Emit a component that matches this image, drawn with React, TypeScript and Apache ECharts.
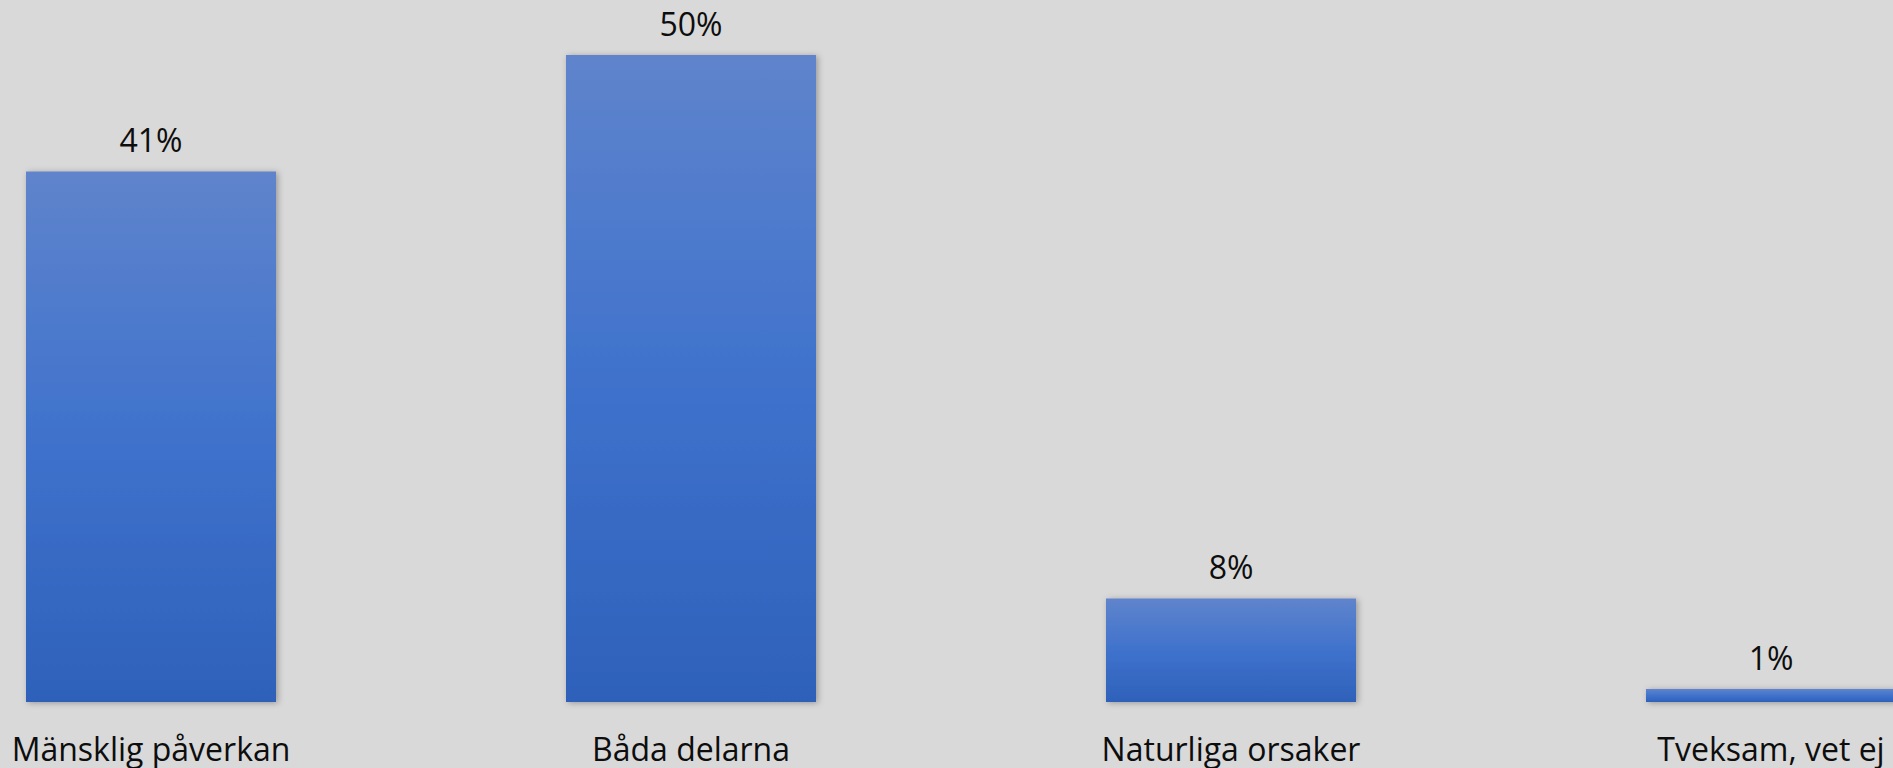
import React, { useEffect, useRef } from "react";
import * as echarts from "echarts";

const categories = ["Mänsklig påverkan", "Båda delarna", "Naturliga orsaker", "Tveksam, vet ej"];
const values = [41, 50, 8, 1];

const OFFSET_X = 119;
const PLOT_W = 2160;

export default function App() {
  const ref = useRef<HTMLDivElement>(null);
  useEffect(() => {
    document.documentElement.style.overflow = "hidden";
    document.body.style.overflow = "hidden";
    document.body.style.background = "#d9d9d9";
    if (!ref.current) return;
    const chart = echarts.init(ref.current, undefined, { renderer: "svg" });
    chart.setOption({
      animation: false,
      backgroundColor: "#d9d9d9",
      grid: { left: 0, top: 55, width: PLOT_W, bottom: 66, containLabel: false },
      xAxis: {
        type: "category",
        data: categories,
        axisLine: { show: false },
        axisTick: { show: false },
        axisLabel: {
          fontFamily: "Open Sans",
          fontSize: 32,
          color: "#0d0d0d",
          margin: 30,
          interval: 0,
        },
      },
      yAxis: {
        type: "value",
        min: 0,
        max: 50,
        show: false,
        splitLine: { show: false },
      },
      graphic: [
        {
          type: "line",
          shape: { x1: 20 + OFFSET_X, y1: 704.5, x2: 1893 + OFFSET_X, y2: 704.5 },
          style: {
            stroke: "#8a8a8a",
            lineWidth: 1.5,
            shadowBlur: 3,
            shadowColor: "rgba(0,0,0,0.35)",
            shadowOffsetY: 1,
          },
          z: 10,
        },
      ],
      series: [
        {
          type: "bar",
          data: values,
          barWidth: 250,
          itemStyle: {
            color: new echarts.graphic.LinearGradient(0, 0, 0, 1, [
              { offset: 0, color: "#5f84cc" },
              { offset: 0.5, color: "#3f72cc" },
              { offset: 1, color: "#2e61ba" },
            ]),
            shadowBlur: 6,
            shadowColor: "rgba(0,0,0,0.3)",
            shadowOffsetX: 2,
            shadowOffsetY: 1,
          },
          label: {
            show: true,
            position: "top",
            distance: 16,
            formatter: "{c}%",
            fontFamily: "Open Sans",
            fontSize: 32,
            color: "#0d0d0d",
          },
        },
      ],
    });
    return () => chart.dispose();
  }, []);
  return (
    <div
      ref={ref}
      style={{ position: "absolute", left: -OFFSET_X, top: 0, width: PLOT_W, height: 768 }}
    />
  );
}
